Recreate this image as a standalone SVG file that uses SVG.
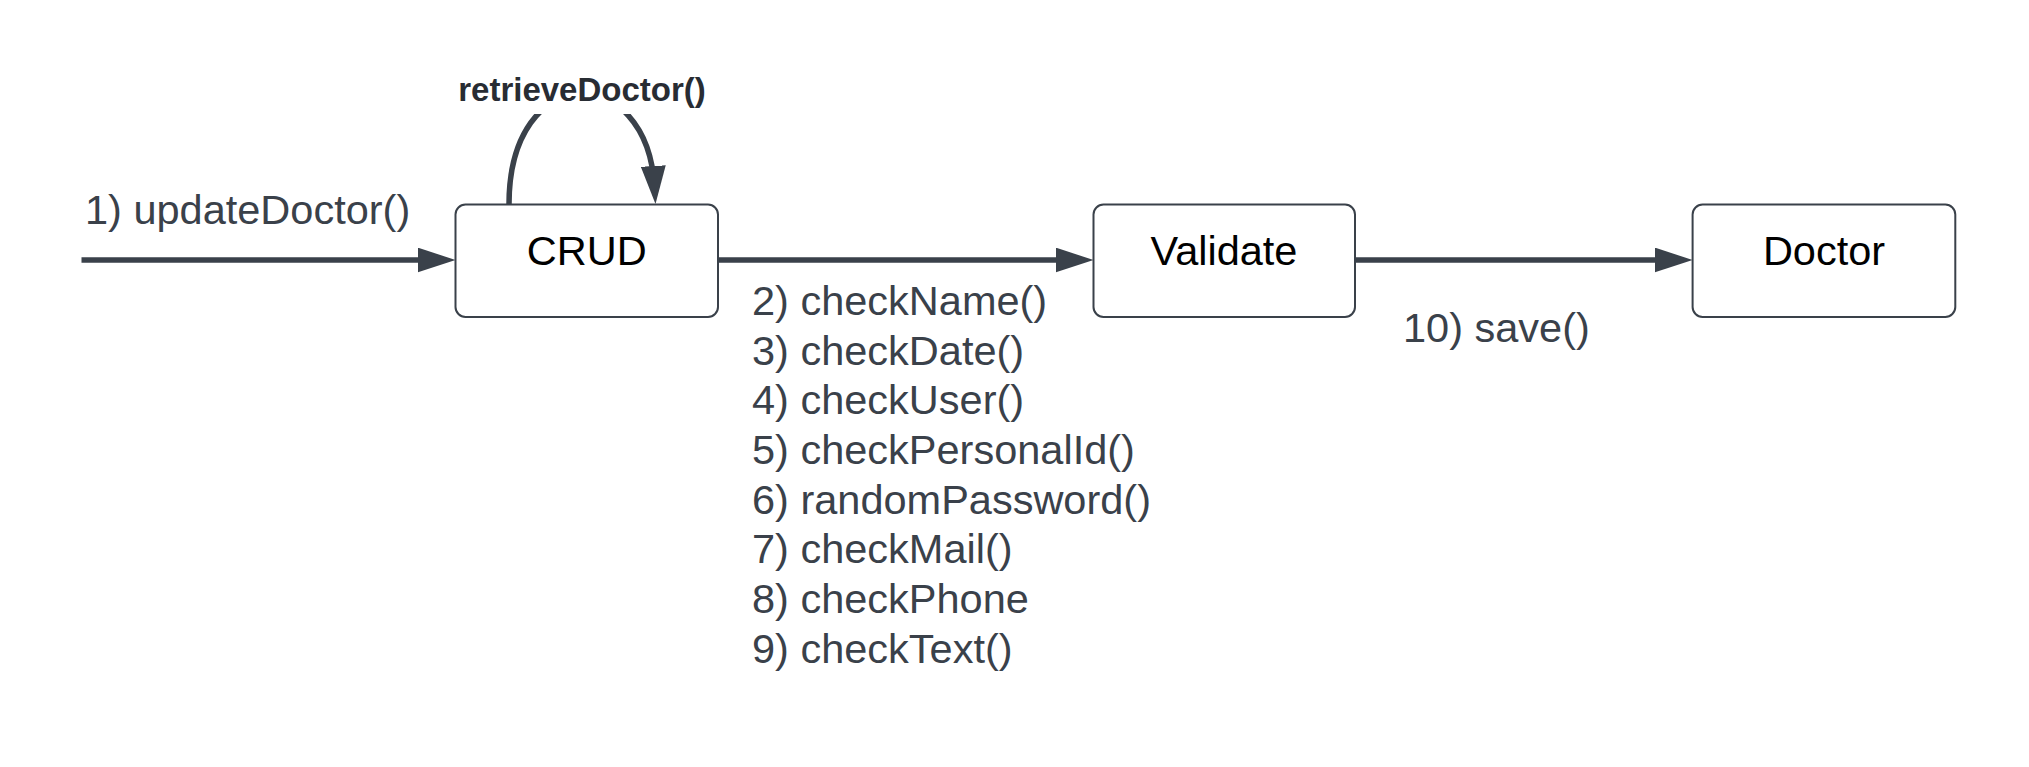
<svg xmlns="http://www.w3.org/2000/svg" width="2029" height="767" viewBox="0 0 2029 767">
<style>
  .box { fill: #ffffff; stroke: #3a414a; stroke-width: 2; }
  .name { font-family: "Liberation Sans", Arial, sans-serif; font-size: 41.5px; fill: #000000; text-anchor: middle; }
  .lbl { font-family: "Liberation Sans", Arial, sans-serif; font-size: 41.5px; fill: #3a414a; }
  .bold { font-family: "Liberation Sans", Arial, sans-serif; font-size: 33px; font-weight: bold; fill: #282c33; text-anchor: middle; }
  .edge { fill: none; stroke: #3a414a; stroke-width: 5.5; marker-end: url(#arrow); }
</style>
<defs>
  <marker id="arrow" markerUnits="userSpaceOnUse" markerWidth="38" markerHeight="25" viewBox="0 0 38 25" refX="21" refY="12.5" orient="auto">
    <path d="M0,0 L38,12.5 L0,25 Z" fill="#3a414a"/>
  </marker>
</defs>
<rect width="2029" height="767" fill="#ffffff"/>
<g id="connectors">
  <line class="edge" x1="81.5" y1="260" x2="438.5" y2="260"/>
  <line class="edge" x1="718" y1="260" x2="1076.5" y2="260"/>
  <line class="edge" x1="1355" y1="260" x2="1675.6" y2="260"/>
  <path class="edge" d="M509,204.5 C509,60 647,60 654.5,187"/>
  <rect x="450" y="64" width="265" height="50" fill="#ffffff"/>
  <text class="bold" x="582" y="101">retrieveDoctor()</text>
  <text class="lbl" x="85" y="224">1) updateDoctor()</text>
  <text class="lbl" x="752">
    <tspan x="752" y="315">2) checkName()</tspan>
    <tspan x="752" y="365">3) checkDate()</tspan>
    <tspan x="752" y="414">4) checkUser()</tspan>
    <tspan x="752" y="464">5) checkPersonalId()</tspan>
    <tspan x="752" y="514">6) randomPassword()</tspan>
    <tspan x="752" y="563">7) checkMail()</tspan>
    <tspan x="752" y="613">8) checkPhone</tspan>
    <tspan x="752" y="663">9) checkText()</tspan>
  </text>
  <text class="lbl" x="1403" y="342">10) save()</text>
</g>
<g id="crud">
  <rect class="box" x="455.5" y="204.5" width="262.5" height="112.5" rx="10"/>
  <text class="name" x="586.8" y="265">CRUD</text>
</g>
<g id="validate">
  <rect class="box" x="1093.5" y="204.5" width="261.5" height="112.5" rx="10"/>
  <text class="name" x="1224" y="265">Validate</text>
</g>
<g id="doctor">
  <rect class="box" x="1692.6" y="204.5" width="262.7" height="112.5" rx="10"/>
  <text class="name" x="1824" y="265">Doctor</text>
</g>
</svg>
